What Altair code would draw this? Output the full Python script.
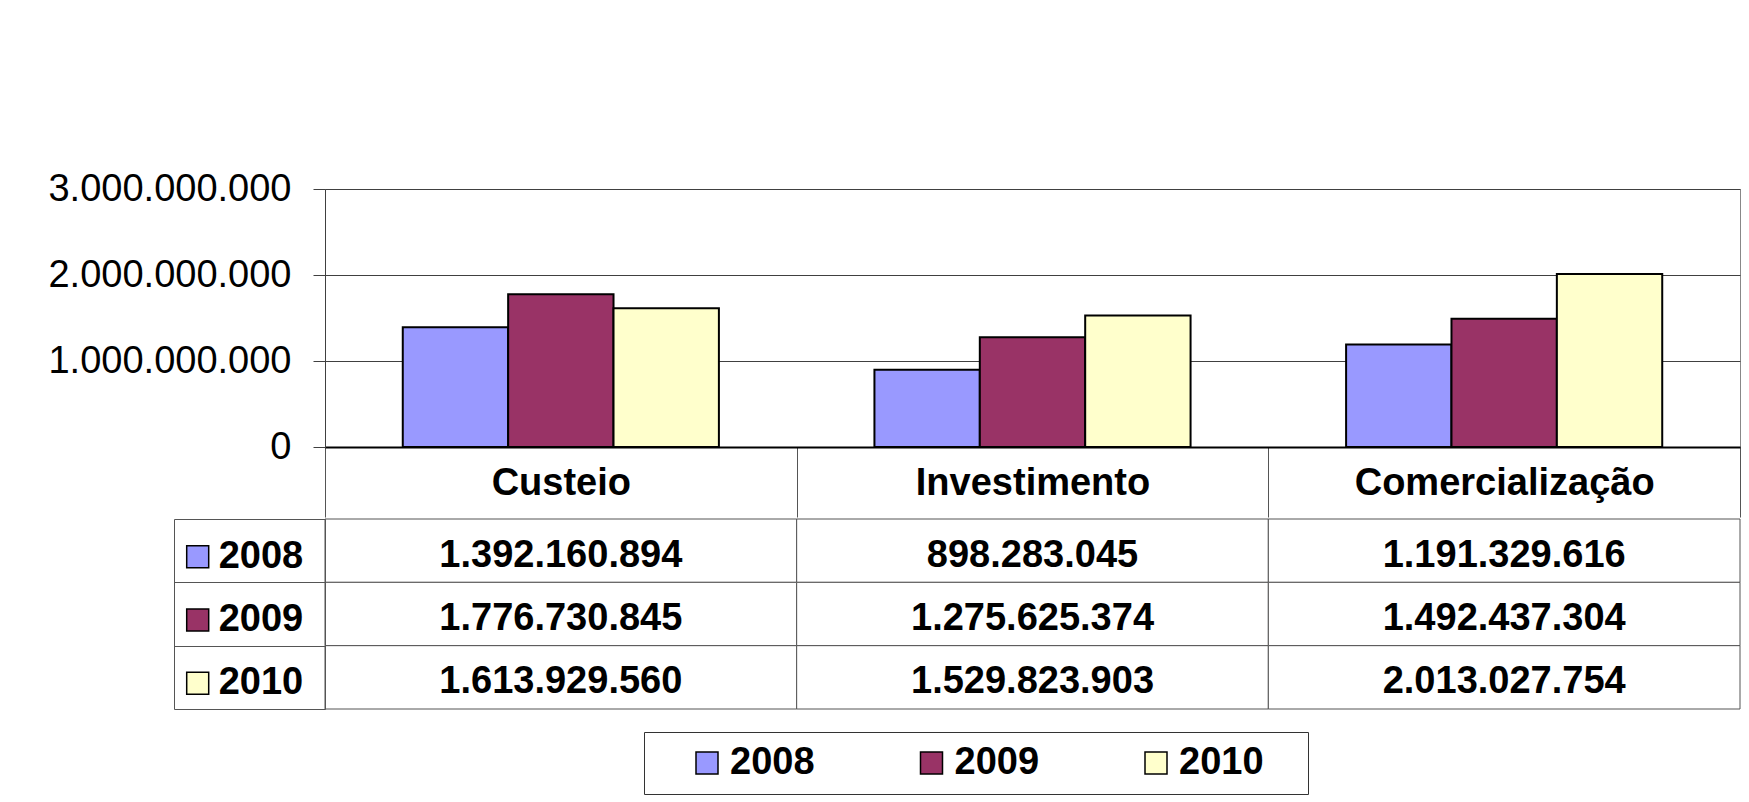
import altair as alt
import pandas as pd

# ---- data ----
categories = ["Custeio", "Investimento", "Comercialização"]
years = ["2008", "2009", "2010"]
values_2008 = [1392160894, 898283045, 1191329616]
values_2009 = [1776730845, 1275625374, 1492437304]
values_2010 = [1613929560, 1529823903, 2013027754]
year_colors = ["#9999FF", "#993366", "#FFFFCC"]
y_ticks = [0, 1000000000, 2000000000, 3000000000]

rows = []
for yr, vals in zip(years, [values_2008, values_2009, values_2010]):
    for cat, v in zip(categories, vals):
        rows.append({"categoria": cat, "ano": yr, "ano_leg": yr, "valor": v})
df = pd.DataFrame(rows)

FONT = "Liberation Sans"
W = 1415
LINE = "#555555"
color_scale = alt.Scale(domain=years, range=year_colors)
ZWSP = "\u200b"

# ---- bar chart with header row as x-axis ----
bars = alt.Chart(df).mark_bar(stroke="black", strokeWidth=2).encode(
    x=alt.X(
        "categoria:N", sort=categories,
        scale=alt.Scale(paddingInner=0, paddingOuter=0),
        axis=alt.Axis(
            title=None, orient="bottom", tickBand="extent", tickSize=70,
            tickColor=LINE, tickWidth=1, domainColor="black", domainWidth=2,
            labelFont=FONT, labelFontSize=38, labelFontWeight="bold",
            labelColor="black", labelPadding=-34, labelBaseline="middle",
            labelLimit=0, labelAngle=0, labelOverlap=False, grid=False,
        ),
    ),
    xOffset=alt.XOffset("ano:N", sort=years,
                        scale=alt.Scale(paddingInner=0, paddingOuter=0.738)),
    y=alt.Y(
        "valor:Q",
        scale=alt.Scale(domain=[0, 3000000000], nice=False, zero=True),
        axis=alt.Axis(
            title=None, values=y_ticks, format=",d", tickSize=12,
            tickColor="#404040", domainColor="#404040", grid=True,
            gridColor="#404040", labelFont=FONT, labelFontSize=38,
            labelColor="black", labelPadding=22, labelLimit=0, minExtent=290,
        ),
    ),
    fill=alt.Fill("ano:N", scale=color_scale, legend=None),
).properties(width=W, height=258,
             view=alt.ViewBackground(stroke="#888888", strokeWidth=1))

# ---- data table below ----
x_tab = alt.X("categoria:N", sort=categories,
              scale=alt.Scale(paddingInner=0, paddingOuter=0), axis=None)
y_scale = alt.Scale(paddingInner=0, paddingOuter=0)

key_vertical = alt.Chart(df).mark_rect().encode(
    x=x_tab,
    y=alt.Y("ano:N", sort=years, scale=y_scale,
            axis=alt.Axis(title=None, labels=False, tickBand="extent",
                          tickSize=151, tickColor=LINE, domainColor=LINE,
                          minExtent=290, grid=False)),
    color=alt.Color("ano:N", scale=color_scale, legend=alt.Legend(
        orient="none", legendX=-159, legendY=6, direction="vertical",
        title=None, symbolType="square", symbolSize=484,
        symbolStrokeColor="black", symbolStrokeWidth=1.5,
        labelFont=FONT, labelFontSize=38, labelFontWeight="bold",
        labelColor="black", labelOffset=2, rowPadding=25.3, padding=12.7,
    )),
)

key_horizontal = alt.Chart(df).mark_rect().encode(
    x=x_tab,
    y=alt.Y("ano:N", sort=years, scale=y_scale,
            axis=alt.Axis(title=None, orient="left", offset=151, ticks=False,
                          labels=False, domainColor=LINE, grid=False)),
    color=alt.Color("ano_leg:N", scale=color_scale, legend=alt.Legend(
        orient="none", legendX=319, legendY=213, direction="horizontal",
        title=" ", titleOrient="left", titleFontSize=1, titlePadding=32,
        symbolType="square", symbolSize=484,
        symbolStrokeColor="black", symbolStrokeWidth=1.5,
        labelFont=FONT, labelFontSize=38, labelFontWeight="bold",
        labelColor="black", labelOffset=4, columnPadding=97.5, padding=12,
        strokeColor="#333333",
        labelExpr="datum.label == '2010' ? '2010   " + ZWSP + "' : datum.label",
    )),
)

cells = alt.Chart(df).mark_rect(fill="white", stroke=LINE, strokeWidth=1).encode(
    x=x_tab,
    y=alt.Y("ano:N", sort=years, scale=y_scale, axis=None),
)

texts = alt.Chart(df).mark_text(
    font=FONT, fontSize=38, fontWeight="bold", color="black", dy=5
).encode(
    x=x_tab,
    y=alt.Y("ano:N", sort=years, scale=y_scale, axis=None),
    text=alt.Text("valor:Q", format=",d"),
)

table = alt.layer(key_vertical, key_horizontal, cells, texts).resolve_scale(
    color="independent"
).resolve_axis(y="independent").properties(width=W, height=190)

chart = alt.vconcat(bars, table, spacing=0).resolve_scale(
    x="independent", y="independent", color="independent", fill="independent"
).resolve_legend(color="independent").properties(
    padding={"left": 26, "top": 161, "right": 0, "bottom": 0},
    background="white",
).configure(
    font=FONT,
    locale=alt.Locale(number=alt.NumberLocale(
        decimal=",", thousands=".", grouping=[3], currency=["R$ ", ""])),
).configure_view(strokeWidth=0)

chart.save("out.html", embed_options={"renderer": "svg", "actions": False})
